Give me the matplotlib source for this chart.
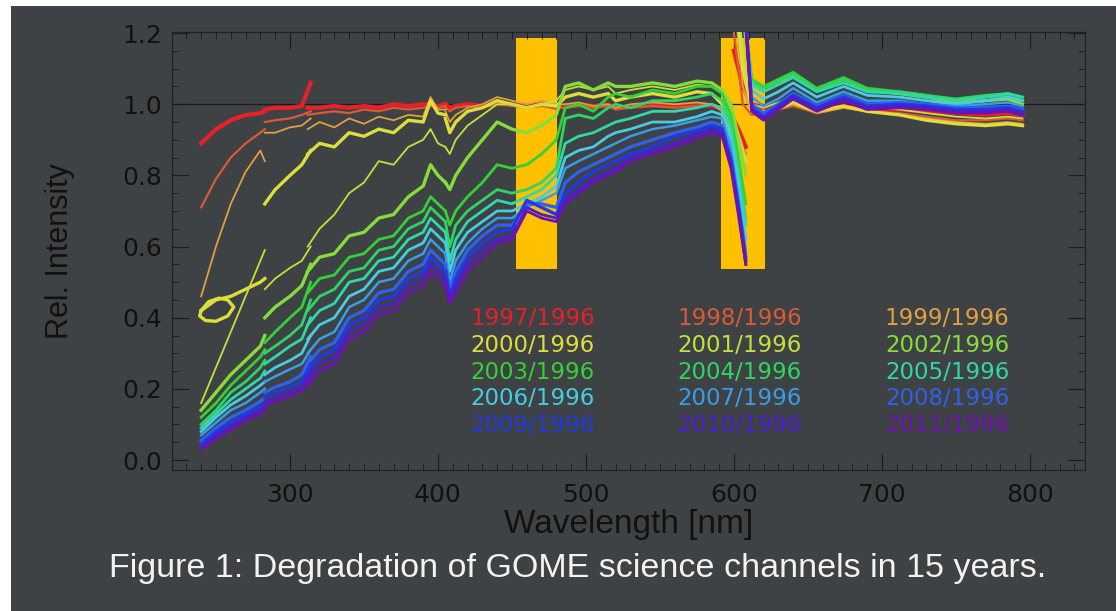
import matplotlib
matplotlib.use("Agg")
import matplotlib.pyplot as plt
from matplotlib.patches import Rectangle
from matplotlib.ticker import MultipleLocator, FormatStrFormatter

# ---------------- data ----------------
# wavelength grids of the GOME channels (nm)
W1A = [240, 250, 260, 270, 280, 283]
W1B = [283, 290, 300, 308, 314]
W2 = [312, 320, 330, 340, 350, 360, 370, 380, 390, 395, 400, 405]
W3 = [405, 408, 412, 420, 430, 440, 450, 460, 470, 480, 486, 495, 505, 515,
      520, 530, 545, 560, 575, 585, 592, 598, 603, 608]
W4 = [600, 606, 612, 620, 630, 640, 656, 674, 690, 712, 730, 750, 770, 785, 795]

# small loop traced by the 2000/1996 ratio at the short-wavelength end
loop2000_w = [240, 245, 252, 258, 262, 258, 250, 243, 239, 240]
loop2000_v = [0.42, 0.445, 0.455, 0.45, 0.43, 0.405, 0.39, 0.392, 0.405, 0.42]

labels = ["1997/1996", "1998/1996", "1999/1996", "2000/1996", "2001/1996",
          "2002/1996", "2003/1996", "2004/1996", "2005/1996", "2006/1996",
          "2007/1996", "2008/1996", "2009/1996", "2010/1996", "2011/1996"]
colors = ["#e8202a", "#d85a36", "#e0a040", "#dede3a", "#c4e03c",
          "#86dc3a", "#34d036", "#30d462", "#30d8a6", "#48cce0",
          "#3a9ce8", "#2f62e6", "#2238e0", "#4a1ed0", "#6c12b0"]

r1997 = [0.89, 0.93, 0.955, 0.97, 0.975, 0.98,
         0.985, 0.99, 0.99, 0.995, 1.06,
         0.99, 0.99, 0.995, 0.99, 0.995, 0.99, 1.0, 0.995, 1.0, 1.0, 0.995, 1.0,
         1.0, 0.99, 0.995, 1.0, 0.995, 1.0, 1.0, 0.995, 1.0, 0.99, 0.995, 1.0, 0.995, 1.0, 0.99, 0.995, 1.0, 0.995, 1.0, 0.995, 0.99, 0.97, 0.93, 0.88,
         1.15, 1.05, 1.0, 0.99, 0.995, 1.0, 0.985, 0.995, 0.985, 0.985, 0.98, 0.975, 0.97, 0.975, 0.97]
r1998 = [0.71, 0.79, 0.85, 0.89, 0.92, 0.93,
         0.95, 0.955, 0.96, 0.97, 0.98,
         0.97, 0.975, 0.98, 0.975, 0.985, 0.98, 0.99, 0.985, 0.99, 0.995, 0.99, 0.995,
         0.99, 0.98, 0.99, 0.995, 0.99, 1.0, 0.995, 0.99, 0.995, 0.99, 0.99, 0.995, 0.99, 0.995, 0.985, 0.99, 0.995, 0.99, 0.995, 1.0, 0.985, 0.96, 0.91, 0.86,
         1.2, 1.0, 0.97, 0.975, 0.985, 0.995, 0.975, 0.99, 0.98, 0.975, 0.965, 0.955, 0.955, 0.96, 0.955]
r1999 = [0.46, 0.60, 0.72, 0.81, 0.87, 0.84,
         0.92, 0.92, 0.935, 0.94, 0.96,
         0.93, 0.95, 0.935, 0.96, 0.945, 0.965, 0.955, 0.97, 0.965, 1.02, 0.985, 0.985,
         0.98, 0.95, 0.97, 0.99, 1.0, 1.02, 1.01, 1.0, 1.01, 1.0, 1.0, 1.005, 0.995, 1.0, 0.99, 1.0, 1.005, 1.0, 1.005, 1.0, 0.98, 0.95, 0.9, 0.85,
         1.3, 1.05, 0.975, 0.97, 0.985, 1.0, 0.975, 0.99, 0.98, 0.97, 0.96, 0.95, 0.945, 0.95, 0.945]
r2000 = [0.42, 0.45, 0.46, 0.48, 0.50, 0.51,
         0.72, 0.76, 0.80, 0.83, 0.87,
         0.86, 0.89, 0.88, 0.92, 0.91, 0.93, 0.92, 0.955, 0.95, 1.01, 0.975, 0.97,
         0.96, 0.92, 0.95, 0.98, 0.99, 1.01, 1.0, 0.99, 1.0, 0.995, 1.02, 1.03, 1.02, 1.03, 1.01, 1.02, 1.03, 1.02, 1.035, 1.03, 1.0, 0.96, 0.9, 0.84,
         1.35, 1.1, 0.985, 0.975, 0.99, 1.005, 0.98, 0.995, 0.98, 0.97, 0.955, 0.945, 0.94, 0.945, 0.94]
r2001 = [0.16, 0.26, 0.36, 0.46, 0.56, 0.59,
         0.48, 0.51, 0.54, 0.56, 0.60,
         0.60, 0.65, 0.69, 0.75, 0.78, 0.84, 0.83, 0.88, 0.90, 0.93, 0.89, 0.88,
         0.88, 0.86, 0.90, 0.94, 0.97, 1.0, 1.0, 0.99, 1.0, 1.01, 1.04, 1.05, 1.04, 1.05, 1.03, 1.04, 1.05, 1.04, 1.055, 1.05, 1.03, 0.99, 0.92, 0.85,
         1.4, 1.15, 1.0, 0.99, 1.005, 1.02, 0.99, 1.01, 0.995, 0.985, 0.975, 0.965, 0.96, 0.965, 0.96]
r2002 = [0.14, 0.19, 0.24, 0.28, 0.32, 0.35,
         0.40, 0.43, 0.46, 0.49, 0.55,
         0.53, 0.57, 0.58, 0.63, 0.64, 0.68, 0.69, 0.74, 0.77, 0.83, 0.80, 0.78,
         0.78, 0.76, 0.80, 0.85, 0.90, 0.95, 0.93, 0.92, 0.94, 0.97, 1.05, 1.06, 1.04, 1.06, 1.05, 1.05, 1.06, 1.05, 1.065, 1.06, 1.04, 1.0, 0.9, 0.8,
         1.5, 1.25, 1.06, 1.045, 1.065, 1.08, 1.04, 1.07, 1.04, 1.03, 1.02, 1.005, 1.01, 1.015, 1.0]
r2003 = [0.12, 0.16, 0.21, 0.25, 0.29, 0.31,
         0.33, 0.36, 0.40, 0.43, 0.50,
         0.47, 0.51, 0.52, 0.57, 0.58, 0.62, 0.63, 0.68, 0.70, 0.74, 0.72, 0.70,
         0.70, 0.66, 0.70, 0.74, 0.78, 0.83, 0.82, 0.83, 0.86, 0.9, 0.99, 1.0, 0.98, 1.02, 1.03, 1.02, 1.04, 1.03, 1.05, 1.05, 1.03, 0.97, 0.85, 0.72,
         1.55, 1.3, 1.07, 1.05, 1.07, 1.09, 1.045, 1.075, 1.045, 1.035, 1.025, 1.01, 1.02, 1.025, 1.01]
r2004 = [0.10, 0.14, 0.19, 0.22, 0.26, 0.28,
         0.30, 0.32, 0.35, 0.38, 0.45,
         0.42, 0.46, 0.48, 0.53, 0.54, 0.59, 0.60, 0.65, 0.67, 0.71, 0.69, 0.67,
         0.67, 0.60, 0.66, 0.70, 0.73, 0.76, 0.75, 0.76, 0.78, 0.82, 0.96, 0.97, 0.96, 0.99, 1.0, 0.99, 1.01, 1.01, 1.02, 1.03, 1.01, 0.95, 0.82, 0.68,
         1.6, 1.3, 1.065, 1.045, 1.065, 1.085, 1.04, 1.07, 1.04, 1.035, 1.025, 1.015, 1.025, 1.03, 1.02]
r2005 = [0.09, 0.13, 0.17, 0.20, 0.23, 0.25,
         0.27, 0.29, 0.32, 0.34, 0.40,
         0.38, 0.42, 0.44, 0.50, 0.51, 0.56, 0.57, 0.62, 0.64, 0.68, 0.66, 0.64,
         0.64, 0.56, 0.62, 0.67, 0.70, 0.73, 0.72, 0.74, 0.76, 0.80, 0.89, 0.91, 0.92, 0.94, 0.95, 0.96, 0.98, 0.98, 0.99, 1.0, 0.99, 0.93, 0.8, 0.66,
         1.6, 1.3, 1.055, 1.035, 1.055, 1.075, 1.035, 1.06, 1.035, 1.03, 1.02, 1.01, 1.02, 1.03, 1.02]
r2006 = [0.08, 0.12, 0.155, 0.18, 0.21, 0.22,
         0.24, 0.26, 0.28, 0.30, 0.35,
         0.34, 0.38, 0.40, 0.46, 0.48, 0.53, 0.54, 0.59, 0.61, 0.65, 0.63, 0.61,
         0.61, 0.53, 0.59, 0.64, 0.67, 0.70, 0.70, 0.72, 0.74, 0.77, 0.85, 0.87, 0.88, 0.91, 0.92, 0.93, 0.95, 0.95, 0.965, 0.98, 0.97, 0.9, 0.77, 0.62,
         1.6, 1.3, 1.04, 1.015, 1.035, 1.06, 1.02, 1.05, 1.025, 1.02, 1.01, 1.0, 1.01, 1.02, 1.01]
r2007 = [0.07, 0.105, 0.14, 0.16, 0.19, 0.20,
         0.22, 0.235, 0.255, 0.27, 0.31,
         0.30, 0.34, 0.36, 0.43, 0.45, 0.50, 0.51, 0.56, 0.58, 0.62, 0.60, 0.58,
         0.58, 0.50, 0.56, 0.61, 0.65, 0.68, 0.68, 0.71, 0.73, 0.75, 0.82, 0.84, 0.86, 0.88, 0.89, 0.91, 0.93, 0.94, 0.955, 0.965, 0.96, 0.88, 0.74, 0.59,
         1.6, 1.3, 1.02, 0.995, 1.015, 1.045, 1.005, 1.035, 1.01, 1.01, 1.0, 0.995, 1.0, 1.005, 0.995]
r2008 = [0.055, 0.09, 0.12, 0.14, 0.165, 0.175,
         0.19, 0.205, 0.22, 0.24, 0.29,
         0.27, 0.31, 0.33, 0.40, 0.42, 0.47, 0.48, 0.53, 0.55, 0.59, 0.57, 0.55,
         0.55, 0.48, 0.53, 0.59, 0.63, 0.66, 0.66, 0.72, 0.72, 0.71, 0.78, 0.81, 0.83, 0.85, 0.86, 0.88, 0.90, 0.92, 0.935, 0.95, 0.94, 0.85, 0.72, 0.57,
         1.6, 1.35, 1.0, 0.975, 1.0, 1.03, 0.995, 1.025, 1.0, 1.005, 1.0, 0.99, 0.99, 0.995, 0.985]
r2009 = [0.045, 0.08, 0.105, 0.13, 0.15, 0.16,
         0.175, 0.19, 0.205, 0.22, 0.27,
         0.25, 0.29, 0.31, 0.38, 0.40, 0.45, 0.46, 0.51, 0.53, 0.57, 0.55, 0.53,
         0.53, 0.46, 0.51, 0.57, 0.61, 0.64, 0.65, 0.73, 0.71, 0.69, 0.75, 0.78, 0.81, 0.83, 0.84, 0.86, 0.88, 0.91, 0.925, 0.94, 0.93, 0.84, 0.71, 0.56,
         1.6, 1.35, 0.99, 0.965, 0.995, 1.025, 0.99, 1.02, 0.995, 1.0, 0.995, 0.985, 0.985, 0.99, 0.98]
r2010 = [0.035, 0.07, 0.095, 0.12, 0.14, 0.15,
         0.16, 0.175, 0.19, 0.205, 0.25,
         0.23, 0.27, 0.29, 0.36, 0.38, 0.43, 0.44, 0.49, 0.51, 0.55, 0.53, 0.51,
         0.51, 0.45, 0.49, 0.55, 0.59, 0.62, 0.63, 0.71, 0.69, 0.68, 0.73, 0.76, 0.79, 0.81, 0.82, 0.85, 0.87, 0.89, 0.915, 0.93, 0.92, 0.83, 0.70, 0.55,
         1.6, 1.35, 0.985, 0.96, 0.99, 1.02, 0.985, 1.015, 0.99, 0.995, 0.99, 0.98, 0.98, 0.985, 0.975]
r2011 = [0.03, 0.06, 0.085, 0.11, 0.13, 0.14,
         0.15, 0.165, 0.18, 0.195, 0.23,
         0.21, 0.25, 0.27, 0.34, 0.36, 0.41, 0.42, 0.47, 0.49, 0.53, 0.51, 0.49,
         0.49, 0.44, 0.47, 0.53, 0.57, 0.61, 0.62, 0.70, 0.68, 0.67, 0.72, 0.75, 0.78, 0.80, 0.81, 0.84, 0.86, 0.88, 0.905, 0.92, 0.91, 0.82, 0.69, 0.55,
         1.6, 1.35, 0.98, 0.955, 0.985, 1.015, 0.98, 1.01, 0.985, 0.99, 0.985, 0.975, 0.975, 0.98, 0.97]

series = [r1997, r1998, r1999, r2000, r2001, r2002, r2003, r2004, r2005,
          r2006, r2007, r2008, r2009, r2010, r2011]
widths = [3.0, 1.6, 1.3, 2.4, 1.3, 2.4, 2.0, 2.0, 2.0, 2.0, 1.8, 2.4, 2.4, 2.0, 2.0]

windows = [(452.7, 480.4), (591.2, 621.0)]   # masked spectral windows (nm)
window_y = (0.536, 1.185)

caption = "Figure 1: Degradation of GOME science channels in 15 years."

# ---------------- figure ----------------
BG = "#3e4244"
fig = plt.figure(figsize=(11.16, 6.11), dpi=100)
fig.patch.set_facecolor("white")
fig.add_artist(Rectangle((11 / 1116, 0), 1, (611 - 6) / 611, transform=fig.transFigure,
                         facecolor=BG, edgecolor="none", zorder=-10))

ax = fig.add_axes([172 / 1116, 1 - 470 / 611, (1085 - 172) / 1116, (470 - 32) / 611])
ax.set_facecolor(BG)

for x0, x1 in windows:
    ax.add_patch(Rectangle((x0, window_y[0]), x1 - x0, window_y[1] - window_y[0],
                           facecolor="#ffc000", edgecolor="none", zorder=1))
ax.axhline(1.0, color="#1c1c1c", lw=0.9, zorder=2)

grids = [W1A, W1B, W2, W3, W4]
for vals, c, lw in zip(series, colors, widths):
    start = 0
    for g in grids:
        seg = vals[start:start + len(g)]
        ax.plot(g, seg, color=c, lw=lw, zorder=3, solid_joinstyle="round")
        start += len(g)
ax.plot(loop2000_w, loop2000_v, color=colors[3], lw=widths[3], zorder=3,
        solid_joinstyle="round")

ax.set_xlim(220.3, 837.2)
ax.set_ylim(-0.028, 1.203)
ax.xaxis.set_major_locator(MultipleLocator(100))
ax.xaxis.set_minor_locator(MultipleLocator(10))
ax.yaxis.set_major_locator(MultipleLocator(0.2))
ax.yaxis.set_minor_locator(MultipleLocator(0.05))
ax.yaxis.set_major_formatter(FormatStrFormatter("%.1f"))
ax.tick_params(which="both", direction="in", top=True, right=True, colors="#1e1e1e")
ax.tick_params(which="major", length=12, width=0.9, labelsize=18, labelcolor="#111111")
ax.tick_params(which="minor", length=5, width=0.7)
ax.tick_params(axis="x", pad=9)
ax.tick_params(axis="y", pad=7)
for lab in ax.get_xticklabels() + ax.get_yticklabels():
    lab.set_family("DejaVu Sans")
for s in ax.spines.values():
    s.set_color("#222222")
    s.set_linewidth(0.9)

lab_font = ["Liberation Sans", "DejaVu Sans"]
ax.set_xlabel("Wavelength [nm]", fontsize=24, color="#111111", family=lab_font, labelpad=2)
ax.set_ylabel("Rel. Intensity", fontsize=22, color="#111111", family=lab_font, labelpad=34)

# legend as coloured text in three columns
col_x = [421.7, 561.5, 702.0]
row_y = [0.399, 0.323, 0.247, 0.174, 0.098]
for i, (lab, c) in enumerate(zip(labels, colors)):
    r, k = divmod(i, 3)
    ax.text(col_x[k], row_y[r], lab, color=c, fontsize=16.5, family="DejaVu Sans",
            ha="left", va="center", zorder=4)

fig.text(578 / 1116, 1 - 568 / 611, caption, color="#f2f2f2", fontsize=24.5,
         family=lab_font, ha="center", va="center")

fig.savefig("out.png", dpi=100, facecolor=fig.get_facecolor())
